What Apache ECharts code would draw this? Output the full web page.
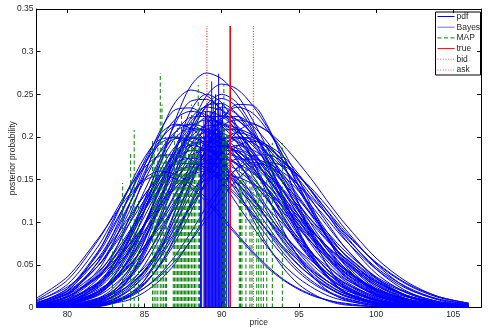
<!DOCTYPE html>
<html><head><meta charset="utf-8">
<script src="https://cdn.jsdelivr.net/npm/echarts@6/dist/echarts.min.js"></script>
<style>html,body{margin:0;padding:0;background:#fff}#c{width:489px;height:328px}</style>
</head><body><div id="c"></div>
<script>
// ---- data ----
const priceGrid = [78,80,82,83,84,85,86,87,88,89,90,91,92,93,94,95,96,97,98,100,102,104,106];
const pdf01 = [0,.003,.018,.037,.068,.113,.167,.220,.260,.275,.268,.249,.220,.185,.149,.113,.082,.057,.037,.014,.004,.001,0];
const pdf02 = [0,.001,.008,.017,.035,.065,.108,.159,.210,.248,.262,.256,.237,.210,.177,.141,.108,.078,.054,.022,.008,.002,0];
const pdf03 = [0,.001,.006,.012,.024,.043,.070,.105,.146,.186,.219,.238,.237,.212,.170,.121,.078,.045,.023,.004,.001,0,0];
const pdf04 = [.001,.007,.034,.063,.105,.155,.204,.241,.255,.249,.231,.204,.172,.138,.105,.076,.053,.034,.022,.007,.002,0,0];
const pdf05 = [.002,.010,.044,.076,.119,.166,.207,.232,.234,.222,.201,.174,.143,.111,.083,.059,.039,.025,.016,.005,.001,0,0];
const pdf06 = [.004,.019,.065,.101,.141,.176,.197,.199,.189,.171,.148,.121,.095,.070,.050,.034,.022,.013,.008,.002,.001,0,0];
const pdf07 = [.004,.017,.053,.083,.120,.159,.195,.221,.230,.226,.215,.198,.177,.152,.127,.102,.080,.060,.044,.021,.009,.003,.001];
const pdf08 = [.002,.008,.030,.051,.079,.114,.152,.187,.211,.220,.216,.206,.190,.169,.146,.121,.098,.076,.058,.030,.013,.005,.002];
const pdf09 = [.002,.009,.029,.046,.070,.098,.131,.162,.190,.208,.215,.210,.195,.172,.145,.116,.088,.064,.044,.018,.006,.002,0];
const pdf10 = [.001,.005,.018,.030,.048,.072,.101,.134,.166,.194,.213,.220,.216,.206,.190,.169,.146,.121,.098,.058,.030,.013,.005];
const pdf11 = [0,.002,.011,.023,.045,.078,.121,.170,.212,.237,.239,.227,.206,.177,.146,.114,.084,.060,.040,.016,.005,.001,0];
const pdf12 = [.002,.012,.040,.065,.098,.137,.174,.205,.223,.224,.213,.193,.166,.137,.107,.079,.056,.038,.024,.009,.002,.001,0];
const pdf13 = [.005,.020,.058,.087,.121,.155,.182,.198,.199,.189,.171,.148,.121,.095,.070,.050,.034,.022,.013,.004,.001,0,0];
const pdf14 = [0,.002,.010,.020,.036,.058,.087,.121,.155,.182,.198,.199,.193,.180,.163,.143,.121,.100,.079,.045,.022,.010,.004];
const pdf15 = [.004,.016,.042,.063,.089,.118,.147,.172,.189,.195,.192,.183,.168,.150,.129,.108,.087,.068,.051,.026,.012,.005,.002];
const pdf16 = [.001,.006,.026,.047,.078,.115,.152,.180,.190,.185,.172,.152,.128,.103,.078,.057,.039,.026,.016,.006,.002,0,0];
const pdf17 = [.009,.032,.079,.109,.140,.164,.178,.179,.173,.162,.147,.129,.109,.090,.071,.055,.041,.029,.020,.009,.003,.001,0];
const pdf18 = [0,.002,.009,.016,.026,.042,.063,.089,.118,.147,.172,.189,.195,.190,.177,.156,.131,.105,.080,.040,.017,.006,.002];
const pdf19 = [.005,.015,.037,.054,.074,.097,.121,.144,.163,.176,.180,.177,.168,.155,.138,.119,.099,.080,.062,.034,.017,.007,.003];
const pdf20 = [0,.001,.009,.020,.038,.067,.104,.145,.181,.202,.204,.194,.176,.151,.124,.097,.072,.051,.034,.014,.004,.001,0];
const pdf21 = [0,.001,.007,.019,.042,.079,.127,.175,.206,.209,.199,.180,.155,.127,.100,.074,.052,.035,.023,.008,.002,.001,0];
const pdf22 = [.002,.014,.054,.088,.131,.172,.203,.215,.210,.195,.172,.145,.116,.088,.064,.044,.029,.018,.011,.003,.001,0,0];
const pdf23 = [0,0,.005,.014,.034,.070,.122,.182,.231,.250,.240,.212,.173,.130,.090,.058,.034,.018,.009,.002,0,0,0];
const pdf24 = [0,0,.001,.005,.013,.032,.065,.114,.171,.217,.235,.226,.200,.163,.122,.085,.054,.032,.017,.004,.001,0,0];
const pdf25 = [0,0,.002,.006,.014,.028,.051,.084,.124,.164,.194,.205,.200,.186,.164,.138,.111,.084,.061,.028,.010,.003,.001];
const pdf26 = [.008,.024,.057,.080,.106,.132,.154,.170,.175,.172,.164,.151,.134,.116,.097,.078,.061,.046,.033,.016,.007,.003,.001];
const pdf27 = [.011,.036,.081,.107,.132,.149,.155,.151,.140,.124,.104,.084,.064,.046,.032,.021,.013,.008,.004,.001,0,0,0];
const pdf28 = [.003,.010,.029,.045,.066,.090,.116,.140,.158,.169,.169,.161,.146,.126,.103,.081,.060,.042,.029,.011,.004,.001,0];
const pdf29 = [0,.004,.019,.036,.063,.099,.138,.172,.192,.194,.188,.176,.159,.139,.118,.097,.077,.059,.044,.022,.010,.004,.001];
const pdf30 = [0,0,.004,.010,.022,.042,.073,.114,.159,.198,.222,.224,.213,.193,.166,.137,.107,.079,.056,.024,.009,.002,.001];
const pdf31 = [0,.001,.004,.007,.014,.023,.037,.055,.078,.103,.128,.150,.165,.170,.166,.154,.136,.115,.092,.051,.023,.009,.003];
const pdf32 = [0,0,.002,.005,.009,.018,.032,.052,.079,.109,.140,.164,.178,.179,.170,.154,.133,.109,.085,.045,.019,.007,.002];
const pdf33 = [.005,.022,.066,.097,.128,.151,.160,.156,.145,.128,.108,.086,.066,.048,.033,.022,.014,.008,.005,.001,0,0,0];
const pdf34 = [.001,.007,.025,.043,.067,.096,.128,.157,.178,.185,.181,.168,.148,.125,.100,.076,.055,.038,.025,.009,.003,.001,0];
const pdf35 = [.001,.004,.018,.033,.056,.088,.127,.170,.208,.235,.245,.235,.208,.170,.127,.088,.056,.033,.018,.004,.001,0,0];
const pdf36 = [.001,.004,.024,.046,.080,.124,.173,.216,.242,.244,.232,.210,.181,.149,.116,.086,.061,.041,.026,.009,.003,.001,0];
const pdf37 = [.004,.016,.049,.077,.112,.149,.183,.206,.215,.210,.195,.172,.145,.116,.088,.064,.044,.029,.018,.006,.002,0,0];
const pdf38 = [0,.003,.016,.032,.059,.097,.143,.188,.222,.235,.231,.220,.203,.180,.156,.130,.105,.082,.062,.032,.014,.006,.002];
const pdf39 = [0,.001,.006,.013,.027,.050,.082,.121,.160,.189,.200,.195,.181,.160,.135,.108,.082,.060,.041,.017,.006,.002,0];
const pdf40 = [0,.001,.007,.014,.026,.044,.068,.099,.132,.161,.182,.190,.185,.172,.152,.128,.103,.078,.057,.026,.010,.003,.001];
const pdf41 = [.007,.027,.072,.104,.139,.170,.192,.200,.195,.181,.160,.135,.108,.082,.060,.041,.027,.017,.010,.003,.001,0,0];
const pdf42 = [.001,.006,.023,.040,.065,.098,.137,.174,.205,.223,.224,.213,.193,.166,.137,.107,.079,.056,.038,.015,.005,.001,0];
const pdf43 = [.006,.019,.049,.072,.098,.126,.152,.172,.184,.184,.178,.167,.151,.132,.112,.092,.073,.056,.042,.021,.009,.004,.001];
const pdf44 = [0,0,.004,.009,.020,.039,.068,.106,.148,.185,.207,.209,.202,.189,.172,.150,.127,.105,.083,.047,.024,.010,.004];
const pdf45 = [0,.001,.004,.008,.016,.029,.049,.077,.112,.149,.183,.206,.215,.206,.183,.149,.112,.077,.049,.016,.004,.001,0];
const pdf46 = [.004,.013,.035,.052,.073,.097,.121,.141,.155,.160,.156,.145,.128,.108,.086,.066,.048,.033,.022,.008,.002,.001,0];
const pdf47 = [.001,.003,.011,.018,.030,.047,.068,.093,.119,.144,.163,.174,.174,.169,.158,.143,.125,.106,.087,.053,.028,.013,.005];
const pdf48 = [.001,.006,.027,.050,.082,.121,.160,.189,.200,.192,.170,.139,.104,.072,.046,.027,.015,.007,.003,.001,0,0,0];
const pdf49 = [0,.001,.007,.017,.034,.062,.103,.152,.200,.237,.250,.240,.212,.173,.130,.090,.058,.034,.018,.004,.001,0,0];
const pdf50 = [.004,.017,.049,.074,.103,.132,.155,.168,.169,.164,.153,.139,.122,.103,.085,.067,.052,.038,.028,.013,.005,.002,.001];
const pdf51 = [.001,.005,.019,.034,.055,.083,.115,.147,.173,.188,.189,.183,.171,.155,.136,.115,.095,.075,.058,.031,.014,.006,.002];
const pdf52 = [.002,.007,.021,.033,.050,.071,.094,.117,.137,.150,.155,.153,.145,.134,.119,.103,.086,.069,.054,.030,.014,.006,.002];
const pdf53 = [0,.003,.016,.032,.055,.086,.120,.150,.168,.169,.161,.146,.126,.103,.081,.060,.042,.029,.018,.006,.002,0,0];
const pdf54 = [0,0,.003,.007,.016,.032,.059,.097,.143,.188,.222,.235,.228,.207,.177,.143,.108,.076,.051,.019,.005,.001,0];
const pdf55 = [.001,.006,.028,.052,.086,.127,.168,.199,.210,.207,.197,.181,.161,.139,.116,.093,.073,.055,.040,.020,.008,.003,.001];
const pdf56 = [.001,.008,.028,.047,.074,.107,.142,.174,.197,.205,.200,.186,.164,.138,.111,.084,.061,.042,.028,.010,.003,.001,0];
const pdf57 = [.001,.004,.016,.030,.052,.081,.117,.156,.191,.216,.225,.220,.204,.180,.152,.122,.092,.067,.046,.019,.007,.002,0];
const pdf58 = [0,0,.002,.006,.013,.027,.050,.082,.121,.160,.189,.200,.197,.187,.172,.154,.132,.110,.089,.052,.027,.012,.005];
const pdf59 = [.003,.013,.037,.057,.084,.114,.147,.177,.200,.213,.214,.203,.184,.159,.131,.102,.076,.054,.036,.014,.005,.001,0];
const pdf60 = [.002,.010,.036,.058,.087,.121,.155,.182,.198,.199,.193,.180,.163,.143,.121,.100,.079,.061,.045,.022,.010,.004,.001];
const pdf61 = [.001,.006,.019,.032,.049,.072,.098,.126,.152,.172,.184,.184,.175,.159,.137,.112,.088,.065,.046,.020,.007,.002,0];
const pdf62 = [.005,.022,.063,.094,.131,.167,.196,.213,.214,.203,.184,.159,.131,.102,.076,.054,.036,.023,.014,.005,.001,0,0];
const pdf63 = [0,0,.003,.006,.012,.023,.039,.061,.088,.118,.144,.163,.170,.166,.154,.136,.115,.092,.070,.035,.014,.005,.001];
const pdf64 = [0,.003,.015,.031,.057,.095,.140,.184,.218,.230,.224,.208,.184,.155,.124,.095,.069,.047,.031,.012,.003,.001,0];
const pdf65 = [.001,.003,.014,.026,.044,.068,.099,.132,.161,.182,.190,.187,.178,.164,.146,.126,.105,.085,.066,.036,.018,.007,.003];
const pdf66 = [.003,.012,.038,.059,.086,.114,.140,.158,.165,.161,.149,.132,.111,.089,.068,.049,.034,.022,.014,.005,.001,0,0];
const pdf67 = [0,.001,.005,.010,.020,.036,.058,.087,.121,.155,.182,.198,.199,.189,.171,.148,.121,.095,.070,.034,.013,.004,.001];
const pdf68 = [0,.001,.008,.017,.033,.057,.089,.124,.154,.173,.174,.169,.158,.143,.125,.106,.087,.069,.053,.028,.013,.005,.002];

const bayesPrice  = [88.63,88.70,88.85,88.90,88.95,89.00,89.05,89.10,89.15,89.20,89.25,89.30,89.35,89.40,89.45,89.50,89.55,89.60,89.65,89.70,89.75,89.80,89.85,89.90,89.95,90.00,90.05,90.10,90.15,90.20,90.32,90.45];
const bayesHeight = [.20,.18,.22,.20,.23,.21,.24,.19,.22,.21,.23,.20,.265,.22,.24,.21,.23,.25,.20,.22,.24,.274,.21,.23,.20,.22,.24,.19,.21,.20,.19,.16];

const mapPrice  = [82.93,83.58,84.10,84.33,84.61,85.52,85.62,85.74,85.86,86.02,86.13,86.24,86.35,86.43,86.86,86.95,87.04,87.13,87.22,87.31,87.40,87.49,87.58,87.67,87.76,87.85,87.94,88.05,88.14,88.24,88.33,88.48,88.56,90.06,90.14,90.24,90.32,91.14,91.22,91.31,91.57,91.83,91.96,92.27,92.40,92.55,92.70,92.92,93.28,93.93];
const mapHeight = [.073,.146,.183,.208,.125,.197,.180,.165,.190,.275,.238,.170,.200,.185,.175,.205,.160,.215,.190,.170,.225,.195,.180,.210,.165,.200,.185,.238,.205,.190,.220,.261,.210,.215,.261,.195,.205,.170,.150,.165,.180,.155,.170,.160,.145,.175,.140,.186,.193,.193];

const truePrice = [90.55];
const bidPrice  = [89.04];
const askPrice  = [92.05];
const markerTop = [0.33];

const xTicks = [80,85,90,95,100,105];
const yTicks = [0,0.05,0.1,0.15,0.2,0.25,0.3,0.35];
const legendNames = ['pdf','Bayes','MAP','true','bid','ask'];
// ---------------------------------------

const pdfCurves = [pdf01,pdf02,pdf03,pdf04,pdf05,pdf06,pdf07,pdf08,pdf09,pdf10,pdf11,pdf12,pdf13,pdf14,pdf15,pdf16,pdf17,pdf18,pdf19,pdf20,pdf21,pdf22,pdf23,pdf24,pdf25,pdf26,pdf27,pdf28,pdf29,pdf30,pdf31,pdf32,pdf33,pdf34,pdf35,pdf36,pdf37,pdf38,pdf39,pdf40,pdf41,pdf42,pdf43,pdf44,pdf45,pdf46,pdf47,pdf48,pdf49,pdf50,pdf51,pdf52,pdf53,pdf54,pdf55,pdf56,pdf57,pdf58,pdf59,pdf60,pdf61,pdf62,pdf63,pdf64,pdf65,pdf66,pdf67,pdf68];

const FONT = '"Liberation Sans", Arial, Helvetica, sans-serif';
const TXT = '#262626';

function vlines(name, xs, ys, color, width, dash, z) {
  return {
    name, type: 'custom', z, silent: true, clip: true,
    encode: {x: 0, y: 1},
    data: xs.map((x, i) => [x, ys[Math.min(i, ys.length - 1)]]),
    renderItem: (params, api) => {
      const a = api.coord([api.value(0), 0]);
      const b = api.coord([api.value(0), api.value(1)]);
      return {type: 'line', shape: {x1: a[0], y1: a[1], x2: b[0], y2: b[1]},
              style: {stroke: color, lineWidth: width, lineDash: dash, fill: null}};
    }
  };
}

const series = pdfCurves.map(c => ({
  name: 'pdf', type: 'line', z: 1, silent: true, symbol: 'none',
  smooth: 0.3,
  data: priceGrid.map((x, i) => [x, c[i]]),
  lineStyle: {color: '#0000ff', width: 1}
}));
series.push(vlines('Bayes', bayesPrice, bayesHeight, '#0000ff', 1, null, 2));
series.push(vlines('MAP', mapPrice, mapHeight, '#008000', 1, [4, 2.5], 3));
series.push(vlines('true', truePrice, markerTop, '#ff0000', 1.6, null, 4));
series.push(vlines('bid', bidPrice, markerTop, '#ff0000', 1, [1, 1.6], 5));
series.push(vlines('ask', askPrice, markerTop, '#ff0000', 1, [1, 1.6], 5));

const legendStyles = [
  {color: '#0000ff', dash: null},
  {color: '#6a6aff', dash: null},
  {color: '#008000', dash: [4, 2.5]},
  {color: '#ff0000', dash: null},
  {color: '#ff6a6a', dash: [1, 1.6]},
  {color: '#ff6a6a', dash: [1, 1.6]}
];
const legendChildren = [{type: 'rect', shape: {x: 0, y: 0, width: 45, height: 63},
  style: {fill: '#fff', stroke: '#000', lineWidth: 1}}];
legendNames.forEach((n, i) => {
  const y = 4.5 + i * 10.7;
  legendChildren.push({type: 'line', shape: {x1: 2, y1: y, x2: 19, y2: y},
    style: {stroke: legendStyles[i].color, lineWidth: 1, lineDash: legendStyles[i].dash}});
  legendChildren.push({type: 'text', x: 21, y: y,
    style: {text: n, fill: TXT, font: '8.5px ' + FONT, verticalAlign: 'middle', textAlign: 'left'}});
});

const axisCommonX = {
  type: 'value', min: 78, max: 106.8, splitLine: {show: false},
  axisLine: {show: true, onZero: false, lineStyle: {color: '#000', width: 1}},
  axisTick: {show: true, inside: true, length: 4, customValues: xTicks, lineStyle: {color: '#000'}}
};
const axisCommonY = {
  type: 'value', min: 0, max: 0.35, splitLine: {show: false},
  axisLine: {show: true, onZero: false, lineStyle: {color: '#000', width: 1}},
  axisTick: {show: true, inside: true, length: 4, customValues: yTicks, lineStyle: {color: '#000'}}
};

const option = {
  animation: false,
  backgroundColor: '#fff',
  grid: {left: 36.5, right: 8, top: 9, bottom: 20.5, containLabel: false, outerBoundsMode: 'none'},
  xAxis: [
    Object.assign({}, axisCommonX, {position: 'bottom',
      axisLabel: {customValues: xTicks, fontSize: 8.5, color: TXT, fontFamily: FONT, margin: 3},
      name: 'price', nameLocation: 'middle', nameGap: 11, nameMoveOverlap: false,
      nameTextStyle: {fontSize: 8.5, color: TXT, fontFamily: FONT}}),
    Object.assign({}, axisCommonX, {position: 'top', axisLabel: {show: false}})
  ],
  yAxis: [
    Object.assign({}, axisCommonY, {position: 'left',
      axisLabel: {customValues: yTicks, fontSize: 8.5, color: TXT, fontFamily: FONT, margin: 3},
      name: 'posterior probability', nameLocation: 'middle', nameGap: 19, nameRotate: 90, nameMoveOverlap: false,
      nameTextStyle: {fontSize: 8.5, color: TXT, fontFamily: FONT}}),
    Object.assign({}, axisCommonY, {position: 'right', axisLabel: {show: false}})
  ],
  series,
  graphic: [{type: 'group', left: 435, top: 11.5, z: 100, children: legendChildren}]
};

const chart = echarts.init(document.getElementById('c'), null, {renderer: 'canvas'});
chart.setOption(option);
</script>
</body></html>
